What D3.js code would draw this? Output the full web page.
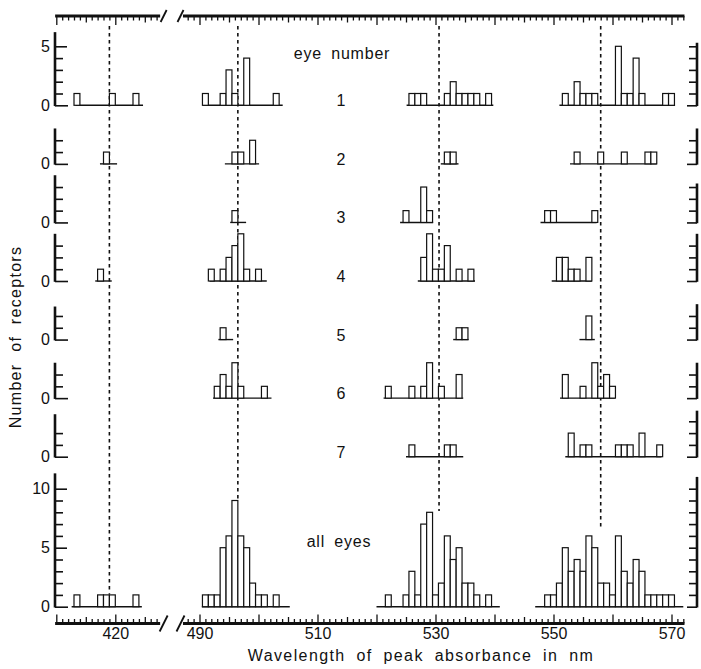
<!DOCTYPE html>
<html><head><meta charset="utf-8">
<script src="https://cdn.jsdelivr.net/npm/d3@7"></script>
<style>
body{margin:0;background:#fff}
svg{display:block}
text{font-family:"Liberation Sans",Arial,Helvetica,sans-serif;fill:#111}
</style>
</head><body>
<svg id="c" width="701" height="669"></svg>
<script>
// ---------------- data ----------------
const rowNames = ["1","2","3","4","5","6","7","all eyes"];
const leftAxisTop  = [6.2, 3, 4, 4, 2.8, 3, 3.6, 11.3];
const leftTickMax  = [5, 2, 3, 3, 2, 2, 2, 10];
const rightAxisTop = [5.3, 3, 3.3, 4, 3, 3, 3.9, 11];
const rightTickMax = [5, 2, 3, 3, 2, 2, 3, 10];
const labelTicks   = [[0,5],[0],[0],[0],[0],[0],[0],[0,5,10]];
const xTickLabels  = [420, 490, 510, 530, 550, 570];
const meanLines    = [419.0, 496.5, 530.6, 558.0];   // dotted lines (nm)
const meanLineEnds = [1.1, 9.1, 8.1, 6.6];          // where they stop (count, all-eyes scale)

// bins: [wavelength centre nm, number of receptors]
const bins420 = [
  [[413.5,1],[419.5,1],[423.5,1]],
  [[418.5,1]],
  [],
  [[417.5,1]],
  [], [], [],
  [[413.5,1],[417.5,1],[418.5,1],[419.5,1],[423.5,1]]
];
const bins498 = [
  [[491,1],[494,1],[495,3],[496,1],[498,4],[503,1]],
  [[496,1],[497,1],[499,2]],
  [[496,1]],
  [[492,1],[494,1],[495,2],[496,3],[497,4],[498,1],[500,1]],
  [[494,1]],
  [[493,1],[494,2],[495,1],[496,3],[497,1],[501,1]],
  [],
  [[491,1],[492,1],[493,1],[494,5],[495,6],[496,9],[497,6],[498,5],[499,2],[500,1],[501,1],[503,1]]
];
const bins530 = [
  [[526,1],[527,1],[528,1],[532,1],[533,2],[534,1],[535,1],[536,1],[537,1],[539,1]],
  [[532,1],[533,1]],
  [[525,1],[528,3],[529,1]],
  [[528,2],[529,4],[530,1],[531,1],[532,3],[534,1],[536,1]],
  [[534,1],[535,1]],
  [[522,1],[526,1],[528,1],[529,3],[531,1],[534,2]],
  [[526,1],[532,1],[533,1]],
  [[522,1],[525,1],[526,3],[527,1],[528,7],[529,8],[530,1],[531,2],[532,6],[533,4],[534,5],[535,2],[536,2],[537,1],[539,1]]
];
const bins558 = [
  [[552,1],[554,2],[555,1],[556,1],[557,1],[561,5],[562,1],[563,1],[564,4],[565,1],[569,1],[570,1]],
  [[554,1],[558,1],[562,1],[566,1],[567,1]],
  [[549,1],[550,1],[557,1]],
  [[551,2],[552,2],[553,1],[554,1],[556,2]],
  [[556,2]],
  [[552,2],[555,1],[557,3],[558,1],[559,2],[560,1]],
  [[553,2],[555,1],[556,1],[561,1],[562,1],[563,1],[565,2],[568,1]],
  [[549,1],[550,1],[551,2],[552,5],[553,3],[554,4],[555,3],[556,6],[557,5],[558,2],[559,2],[560,1],[561,6],[562,3],[563,2],[564,4],[565,3],[566,1],[567,1],[568,1],[569,1],[570,1]]
];
// extent of the base line under each histogram [from nm, to nm]
const base420 = [[413.3,424.7],[417.4,420.3],null,[416.6,419.4],null,null,null,[412.6,424.5]];
const base498 = [[490.6,504.1],[494.3,500.1],[495.2,497.9],[491.7,501.4],[493.2,495.7],[492.3,502.2],null,[490.4,505.3]];
const base530 = [[525.1,539.8],[530.9,533.9],[524.0,529.6],[527.0,536.7],[533.0,535.6],[521.2,534.7],[525.0,534.7],[520.0,540.9]];
const base558 = [[551.0,570.6],[552.8,567.5],[547.8,557.3],[549.7,556.5],[554.4,557.0],[551.1,560.4],[552.0,568.3],[546.9,572.0]];

// ---------------- layout ----------------
const svg = d3.select("#c");
const xMain = d3.scaleLinear().domain([530, 570]).range([435.5, 671.5]);
const xLeft = d3.scaleLinear().domain([420, 430]).range([115.3, 174.3]);
const leftDom = [409.8, 427.6], mainDom = [487.2, 572.2];
const rowBase = d3.scalePoint().domain(d3.range(7)).range([105.3, 456.7]);
const allBase = 606.7, unit = 11.8;
const baseOf = i => i < 7 ? rowBase(i) : allBase;
const yOf = i => d3.scaleLinear().domain([0, 1]).range([baseOf(i), baseOf(i) - unit]);
const axLeftX = 55, axRightX = 697, topY = 16, botY = 623.5;
const FONT = "Liberation Sans, Arial, sans-serif";

// dotted mean lines
const yAll = yOf(7);
meanLines.forEach((m, k) => {
  const sx = k === 0 ? xLeft : xMain;
  svg.append("line").attr("x1", sx(m)).attr("x2", sx(m))
    .attr("y1", 26).attr("y2", yAll(meanLineEnds[k]))
    .attr("stroke", "#111").attr("stroke-width", 1.6).attr("stroke-dasharray", "3.5,3.5");
});

// histograms
const clusters = [[bins420, base420, xLeft], [bins498, base498, xMain], [bins530, base530, xMain], [bins558, base558, xMain]];
rowNames.forEach((name, i) => {
  const y = yOf(i), b = baseOf(i);
  const g = svg.append("g");
  clusters.forEach(([bins, bases, sx]) => {
    if (bases[i]) g.append("line").attr("x1", sx(bases[i][0])).attr("x2", sx(bases[i][1]))
      .attr("y1", b).attr("y2", b).attr("stroke", "#111").attr("stroke-width", 1.4);
    g.selectAll(null).data(bins[i]).join("rect")
      .attr("x", d => sx(d[0] - 0.5)).attr("width", d => sx(d[0] + 0.5) - sx(d[0] - 0.5))
      .attr("y", d => y(d[1])).attr("height", d => b - y(d[1]))
      .attr("fill", "#fff").attr("stroke", "#111").attr("stroke-width", 1.2);
  });

  // left axis
  const yl = d3.scaleLinear().domain([0, leftAxisTop[i]]).range([b, b - leftAxisTop[i] * unit]);
  const la = svg.append("g").attr("transform", `translate(${axLeftX},0)`);
  const minor = d3.range(1, leftTickMax[i] + 1).filter(v => !labelTicks[i].includes(v));
  la.call(d3.axisRight(yl).tickValues(minor).tickSize(8).tickFormat(""));
  la.append("g").call(d3.axisRight(yl).tickValues(labelTicks[i].filter(v => v > 0)).tickSize(12).tickFormat(""));
  la.append("g").call(d3.axisRight(yl).tickValues([0]).tickSize(13).tickFormat(""));
  la.append("g").call(d3.axisLeft(yl).tickValues(labelTicks[i]).tickSize(0).tickPadding(5).tickFormat(d3.format("d")));
  la.selectAll(".domain").remove();
  la.selectAll(".tick line").attr("stroke", "#111").attr("stroke-width", 1.6);
  la.selectAll(".tick text").attr("font-size", 16).attr("font-family", FONT).attr("fill", "#111");
  la.append("line").attr("x1", 0).attr("x2", 0).attr("y1", b + 0.8).attr("y2", yl(leftAxisTop[i]))
    .attr("stroke", "#111").attr("stroke-width", 2.6);

  // right axis
  const yr = d3.scaleLinear().domain([0, rightAxisTop[i]]).range([b, b - rightAxisTop[i] * unit]);
  const ra = svg.append("g").attr("transform", `translate(${axRightX},0)`);
  ra.call(d3.axisLeft(yr).tickValues(d3.range(1, rightTickMax[i] + 1)).tickSize(8).tickFormat(""));
  ra.append("g").call(d3.axisLeft(yr).tickValues([0]).tickSize(10).tickFormat(""));
  ra.selectAll(".domain").remove();
  ra.selectAll(".tick line").attr("stroke", "#111").attr("stroke-width", 1.6);
  ra.append("line").attr("x1", 0).attr("x2", 0).attr("y1", b + 0.8).attr("y2", yr(rightAxisTop[i]))
    .attr("stroke", "#111").attr("stroke-width", 2.6);

  // row label
  if (i < 7) svg.append("text").attr("x", 341).attr("y", b + 1).attr("text-anchor", "middle")
    .attr("font-size", 16).text(name);
  else svg.append("text").attr("x", 339).attr("y", 547).attr("text-anchor", "middle")
    .attr("font-size", 16).attr("letter-spacing", 0.8).attr("word-spacing", 4).text(name);
});

svg.append("text").attr("x", 342).attr("y", 59).attr("text-anchor", "middle")
  .attr("font-size", 16).attr("letter-spacing", 0.8).attr("word-spacing", 4).text("eye number");

// wavelength axes (top & bottom)
function nmAxes(scale, dom) {
  const vals = d3.range(Math.ceil(dom[0]), Math.floor(dom[1]) + 1);
  const lv = [vals.filter(v => v % 5 !== 0), vals.filter(v => v % 5 === 0 && v % 10 !== 0), vals.filter(v => v % 10 === 0)];
  const len = [4.5, 6.5, 9];
  const gt = svg.append("g").attr("transform", `translate(0,${topY})`);
  const gb = svg.append("g").attr("transform", `translate(0,${botY})`);
  lv.forEach((v, k) => {
    gt.append("g").call(d3.axisBottom(scale).tickValues(v).tickSize(len[k]).tickFormat(""));
    gb.append("g").call(d3.axisTop(scale).tickValues(v).tickSize(len[k]).tickFormat(""));
  });
  [gt, gb].forEach(g => {
    g.selectAll(".domain").remove();
    g.selectAll(".tick line").attr("stroke", "#111").attr("stroke-width", 1.3);
    g.append("line").attr("x1", scale(dom[0])).attr("x2", scale(dom[1])).attr("y1", 0).attr("y2", 0)
      .attr("stroke", "#111").attr("stroke-width", 2.8);
  });
  const gl = svg.append("g").attr("transform", `translate(0,${botY})`)
    .call(d3.axisBottom(scale).tickValues(xTickLabels.filter(v => v >= dom[0] && v <= dom[1])).tickSize(0).tickPadding(4));
  gl.selectAll(".domain").remove();
  gl.selectAll("text").attr("font-size", 16).attr("font-family", FONT).attr("fill", "#111");
}
nmAxes(xLeft, leftDom);
nmAxes(xMain, mainDom);

// axis break marks
[[topY, 6], [botY, 8]].forEach(([y, h]) => {
  [xLeft(leftDom[1]) + 3.5, xMain(mainDom[0]) - 2.5].forEach(x => {
    svg.append("line").attr("x1", x - h * 0.5).attr("x2", x + h * 0.5).attr("y1", y + h).attr("y2", y - h)
      .attr("stroke", "#111").attr("stroke-width", 1.8);
  });
});

// titles
svg.append("text").attr("x", 421).attr("y", 661).attr("text-anchor", "middle")
  .attr("font-size", 16).attr("letter-spacing", 1.4).attr("word-spacing", 5)
  .text("Wavelength of peak absorbance in nm");
svg.append("text").attr("transform", "translate(21,337) rotate(-90)").attr("text-anchor", "middle")
  .attr("font-size", 16).attr("letter-spacing", 1.3).attr("word-spacing", 6)
  .text("Number of receptors");
</script>
</body></html>
